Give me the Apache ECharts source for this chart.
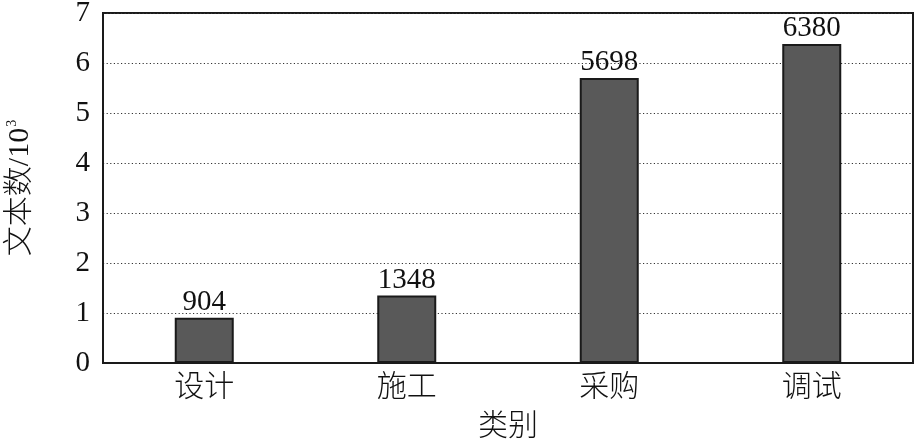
<!DOCTYPE html>
<html><head><meta charset="utf-8">
<script src="https://cdn.jsdelivr.net/npm/echarts@6/dist/echarts.min.js"></script>
<style>html,body{margin:0;padding:0;background:#fff}#c{width:917px;height:442px}</style>
</head><body><div id="c"></div>
<script>
const categories = ['设计', '施工', '采购', '调试'];
const counts = [904, 1348, 5698, 6380];
const yTicks = [0, 1, 2, 3, 4, 5, 6, 7];

const serif = '"Liberation Serif", "DejaVu Serif", "Noto Sans CJK SC", serif';
const cjk = '"Liberation Serif", "Noto Sans CJK SC", serif';
const chart = echarts.init(document.getElementById('c'));
chart.setOption({
  animation: false,
  backgroundColor: '#fff',
  grid: { left: 103, right: 4, top: 13, bottom: 79, outerBoundsMode: 'none', containLabel: false, show: true, borderColor: '#1a1a1a', borderWidth: 2, backgroundColor: 'transparent' },
  xAxis: {
    type: 'category', data: categories,
    name: '类别', nameLocation: 'middle', nameGap: 49,
    nameTextStyle: { fontFamily: cjk, fontSize: 30, color: '#111', fontWeight: 300 },
    axisLine: { show: true, lineStyle: { color: '#1a1a1a', width: 2 } },
    axisTick: { show: false },
    axisLabel: { fontFamily: cjk, fontSize: 30, color: '#111', margin: 10, fontWeight: 300 }
  },
  yAxis: {
    type: 'value', min: 0, max: 7, interval: 1,
    name: '{a|文本数/10}{s|3}', nameLocation: 'middle', nameGap: 68, nameRotate: 90,
    nameTextStyle: {
      rich: {
        a: { fontFamily: cjk, fontSize: 30, color: '#111', fontWeight: 300 },
        s: { fontFamily: serif, fontSize: 14, color: '#111', verticalAlign: 'top', padding: [0, 0, 14, 1] }
      }
    },
    axisLine: { show: true, lineStyle: { color: '#1a1a1a', width: 2 } },
    axisTick: { show: false },
    axisLabel: { fontFamily: serif, fontSize: 29, color: '#111', margin: 13, formatter: v => yTicks.includes(v) ? String(v) : '' },
    splitLine: { show: true, lineStyle: { color: '#333', type: [1.2, 2.4], width: 1 } }
  },
  series: [{
    type: 'bar',
    data: counts.map(v => v / 1000),
    barWidth: 59,
    itemStyle: { color: '#595959', borderColor: '#1a1a1a', borderWidth: 2 },
    label: { show: true, position: 'top', distance: 1, fontFamily: serif, fontSize: 29, color: '#111', formatter: p => counts[p.dataIndex] }
  }]
});
</script></body></html>
